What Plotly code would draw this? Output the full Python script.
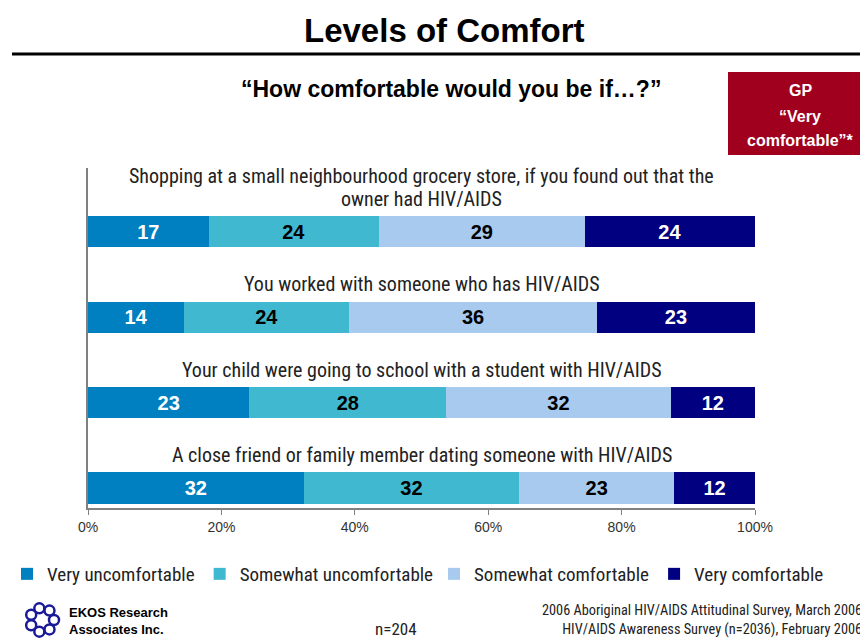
import math
import plotly.graph_objects as go

questions = [
    "Shopping at a small neighbourhood grocery store, if you found out that the<br>owner had HIV/AIDS",
    "You worked with someone who has HIV/AIDS",
    "Your child were going to school with a student with HIV/AIDS",
    "A close friend or family member dating someone with HIV/AIDS",
]
series_names = ["Very uncomfortable", "Somewhat uncomfortable", "Somewhat comfortable", "Very comfortable"]
very_uncomfortable = [17, 14, 23, 32]
somewhat_uncomfortable = [24, 24, 28, 32]
somewhat_comfortable = [29, 36, 32, 23]
very_comfortable = [24, 23, 12, 12]
gp_very_comfortable = [40, 42, 23, 16]
x_ticks = [0, 20, 40, 60, 80, 100]

series_values = [very_uncomfortable, somewhat_uncomfortable, somewhat_comfortable, very_comfortable]
colors = ["#0080C0", "#40B8D0", "#A8CAEE", "#000080"]
text_colors = ["white", "black", "black", "white"]
legend_ids = ["legend", "legend", "legend2", "legend2"]

NARROW = "Liberation Sans Narrow, Arial Narrow, Roboto Condensed, Liberation Sans, Arial"
ARIAL = "Liberation Sans, Arial, sans-serif"

OFF = 8  # page body margin
W, H = 860, 633
# plot area in screen pixels
SL, SR, ST, SB = 88, 755, 168, 508
L, R, T, B = SL - OFF, SR - OFF, ST - OFF, SB - OFF


def px(x):
    """screen x -> paper x"""
    return (x - SL) / (SR - SL)


def py(y):
    """screen y -> paper y"""
    return (SB - y) / (SB - ST)


ypos = list(range(len(questions)))

fig = go.Figure()
for name, vals, col, tc, lg in zip(series_names, series_values, colors, text_colors, legend_ids):
    fig.add_trace(go.Bar(
        y=ypos, x=vals, name=name, orientation="h", legend=lg,
        marker=dict(color=col, line=dict(width=0)),
        text=[str(v) for v in vals], texttemplate="%{text}",
        textposition="inside", insidetextanchor="middle", textangle=0,
        insidetextfont=dict(family=ARIAL, size=20, color=tc, weight="bold"),
        width=0.363, hoverinfo="skip",
    ))

annotations = []
for i, q in enumerate(questions):
    lines = q.split("<br>")
    for j, line in enumerate(reversed(lines)):
        annotations.append(dict(
            x=50, y=i, xref="x", yref="y", text=line, showarrow=False,
            xanchor="center", yanchor="bottom", yshift=19 + 23 * j,
            font=dict(family=NARROW, size=20, color="#222222"), align="center",
        ))
    annotations.append(dict(
        x=107, y=i, xref="x", yref="y", text=str(gp_very_comfortable[i]),
        showarrow=False, xanchor="center", yanchor="middle",
        font=dict(family=ARIAL, size=23, color="black", weight="bold"),
    ))

annotations += [
    dict(x=px(445), y=py(30), xref="paper", yref="paper", text="Levels of Comfort",
         showarrow=False, xanchor="center", yanchor="middle",
         font=dict(family=ARIAL, size=33, color="black", weight="bold")),
    dict(x=px(451), y=py(89), xref="paper", yref="paper",
         text="\u201cHow comfortable would you be if\u2026?\u201d",
         showarrow=False, xanchor="center", yanchor="middle",
         font=dict(family=ARIAL, size=23, color="black", weight="bold")),
    dict(x=px(67), y=py(621), xref="paper", yref="paper",
         text="EKOS Research<br>Associates Inc.", showarrow=False,
         xanchor="left", yanchor="middle", align="left",
         font=dict(family=ARIAL, size=13, color="black", weight="bold")),
    dict(x=px(396), y=py(629), xref="paper", yref="paper",
         text="n=204", showarrow=False, xanchor="center", yanchor="middle",
         font=dict(family=NARROW, size=17, color="#222222")),
    dict(x=px(864), y=py(620), xref="paper", yref="paper",
         text="2006 Aboriginal HIV/AIDS Attitudinal Survey, March 2006<br>HIV/AIDS Awareness Survey (n=2036), February 2006",
         showarrow=False, xanchor="right", yanchor="middle", align="right",
         font=dict(family=NARROW, size=14.3, color="#222222")),
]
for txt, yy in [("GP", 91), ("\u201cVery", 116), ("comfortable\u201d*", 140)]:
    annotations.append(dict(x=px(800), y=py(yy), xref="paper", yref="paper", text=txt,
                            showarrow=False, xanchor="center", yanchor="middle",
                            font=dict(family=ARIAL, size=16, color="white", weight="bold")))

shapes = [
    dict(type="line", xref="paper", yref="paper", x0=px(12), x1=px(870), y0=py(54), y1=py(54),
         line=dict(color="black", width=3)),
    dict(type="rect", xref="paper", yref="paper", x0=px(728), x1=px(862),
         y0=py(155), y1=py(72), fillcolor="#A0001E", line=dict(width=0), layer="below"),
]
# simple logo: ring of small circles
cx, cy, rr, r = 42, 620, 12, 5
for k in range(7):
    a = 2 * math.pi * k / 7
    qx, qy = cx + rr * math.cos(a), cy + rr * math.sin(a)
    shapes.append(dict(type="circle", xref="paper", yref="paper",
                       x0=px(qx - r), x1=px(qx + r), y0=py(qy + r), y1=py(qy - r),
                       line=dict(color="#1a1a99", width=2.5), fillcolor="rgba(0,0,0,0)"))

legend_common = dict(orientation="h", xref="paper", yref="paper",
                     xanchor="left", yanchor="top",
                     font=dict(family=NARROW, size=19, color="#222222"),
                     traceorder="normal", itemwidth=30, tracegroupgap=0,
                     bgcolor="rgba(0,0,0,0)")

fig.update_layout(
    barmode="stack", barnorm="percent",
    width=W, height=H,
    margin=dict(l=L, r=W - R, t=T, b=H - B, autoexpand=False),
    paper_bgcolor="white", plot_bgcolor="white",
    showlegend=True,
    legend=dict(x=px(7), y=py(555), **legend_common),
    legend2=dict(x=px(434), y=py(555), **legend_common),
    xaxis=dict(range=[0, 100], tickvals=x_ticks, ticktext=[f"{v}%" for v in x_ticks],
               showgrid=False, zeroline=False, showline=True, linecolor="#808080", linewidth=1.5,
               ticks="outside", ticklen=5, tickcolor="#808080",
               tickfont=dict(family=ARIAL, size=14, color="#333333"), fixedrange=True),
    yaxis=dict(range=[3.234, -0.743], showticklabels=False, showgrid=False, zeroline=False,
               showline=True, linecolor="#808080", linewidth=1.5, ticks="", fixedrange=True),
    annotations=annotations, shapes=shapes,
    font=dict(family=ARIAL),
)

fig.write_html("out.html")
